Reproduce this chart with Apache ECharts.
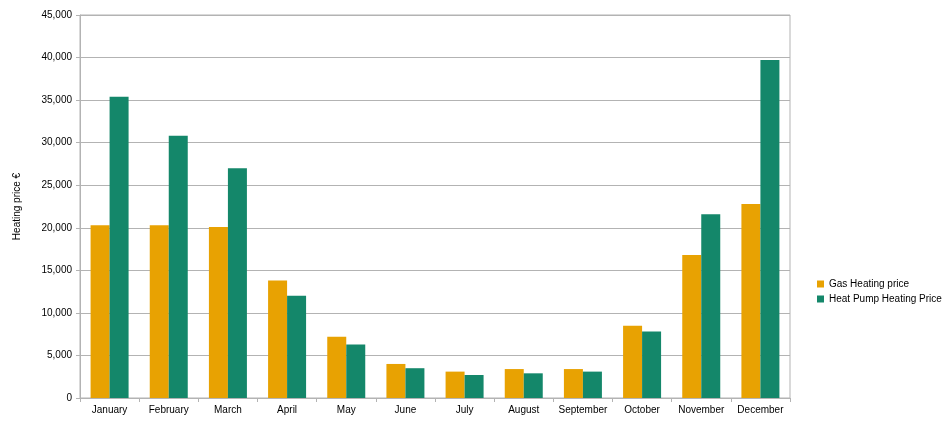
<!DOCTYPE html>
<html><head><meta charset="utf-8">
<script src="https://cdn.jsdelivr.net/npm/echarts@6/dist/echarts.min.js"></script>
<style>html,body{margin:0;background:#fff}#c{width:943px;height:422px}</style>
</head><body><div id="c"></div>
<script>
var months = ['January','February','March','April','May','June','July','August','September','October','November','December'];
var gasPrice = [20300, 20300, 20100, 13800, 7200, 4000, 3100, 3400, 3400, 8500, 16800, 22800];
var heatPumpPrice = [35400, 30800, 27000, 12000, 6300, 3500, 2700, 2900, 3100, 7800, 21600, 39700];

var chart = echarts.init(document.getElementById('c'), null, {renderer: 'canvas'});
chart.setOption({
    animation: false,
    textStyle: {fontFamily: 'Liberation Sans', fontSize: 10, color: '#000'},
    grid: {left: 80, right: 153, top: 15, bottom: 24, show: true, borderColor: '#b3b3b3', borderWidth: 1},
    legend: {
        orient: 'vertical', left: 812, top: 274, itemWidth: 7, itemHeight: 7, itemGap: 5,
        icon: 'rect', textStyle: {fontSize: 10, color: '#000'},
        data: ['Gas Heating price', 'Heat Pump Heating Price']
    },
    xAxis: {
        type: 'category', data: months,
        axisLine: {lineStyle: {color: '#b3b3b3'}},
        axisTick: {show: true, length: 4, lineStyle: {color: '#b3b3b3'}},
        axisLabel: {color: '#000', fontSize: 10, interval: 0, margin: 7}
    },
    yAxis: {
        type: 'value', min: 0, max: 45000, interval: 5000,
        name: 'Heating price €', nameLocation: 'middle', nameGap: 58, nameRotate: 90,
        nameTextStyle: {fontSize: 10, color: '#000'},
        axisLine: {show: true, lineStyle: {color: '#b3b3b3'}},
        axisTick: {show: true, length: 4, lineStyle: {color: '#b3b3b3'}},
        axisLabel: {color: '#000', fontSize: 10, margin: 8},
        splitLine: {lineStyle: {color: '#b3b3b3'}}
    },
    series: [
        {name: 'Gas Heating price', type: 'bar', data: gasPrice, barWidth: 19, barGap: '0%', itemStyle: {color: '#e8a202'}},
        {name: 'Heat Pump Heating Price', type: 'bar', data: heatPumpPrice, barWidth: 19, itemStyle: {color: '#14876a'}}
    ]
});
</script></body></html>
